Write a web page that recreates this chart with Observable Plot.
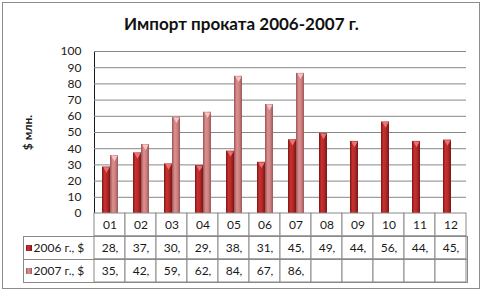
<!DOCTYPE html>
<html><head><meta charset="utf-8">
<script src="https://cdn.jsdelivr.net/npm/d3@7"></script>
<script src="https://cdn.jsdelivr.net/npm/@observablehq/plot@0.6"></script>
<style>
body{margin:0;background:#fff;}
#wrap{position:relative;width:483px;height:291px;overflow:hidden;font-family:Lato,sans-serif;}
#border{position:absolute;left:2px;top:2px;width:476px;height:285px;border:1px solid #8c8c8c;box-sizing:content-box;}
#chart{position:absolute;left:0;top:0;}
#table{position:absolute;left:0;top:213px;}
#title{position:absolute;left:0;top:13px;width:483px;text-align:center;font:bold 17px Lato,sans-serif;color:#111;}
</style></head><body>
<div id="wrap"><div id="border"></div><div id="chart"></div><div id="table"></div><div id="title"></div></div>
<script>
const titleText = "Импорт проката 2006-2007 г.";
const yLabel = "$ млн.";
const months = ["01","02","03","04","05","06","07","08","09","10","11","12"];
const seriesNames = ["2006 г., $", "2007 г., $"];
const values2006 = [28.7, 37.4, 30.6, 29.6, 38.5, 31.6, 45.5, 49.4, 44.5, 56.5, 44.5, 45.3];
const values2007 = [35.7, 42.6, 59.4, 62.5, 84.7, 67.3, 86.5];
const yTicks = [0, 10, 20, 30, 40, 50, 60, 70, 80, 90, 100];
const gradIds = ["url(#g2006)", "url(#g2007)"];

document.getElementById("title").textContent = titleText;

const bars = [];
months.forEach((m, i) => {
  bars.push({month: m, series: seriesNames[0], value: values2006[i]});
  if (values2007[i] != null) bars.push({month: m, series: seriesNames[1], value: values2007[i]});
});

const baseStyle = {background: "none", fontFamily: "Lato, sans-serif", fontSize: "12px", color: "#1a1a1a", overflow: "visible"};

const chart = Plot.plot({
  width: 483, height: 213,
  marginTop: 51, marginBottom: 0, marginLeft: 93, marginRight: 16,
  style: baseStyle,
  fx: {domain: months, padding: 0, axis: null, label: null},
  x: {domain: seriesNames, paddingInner: 0, paddingOuter: 0.73, axis: null},
  y: {domain: [0, 100], ticks: yTicks, tickSize: 0, tickPadding: 13, label: yLabel, labelAnchor: "center", labelOffset: 71, labelArrow: false, line: true},
  color: {domain: seriesNames, range: gradIds},
  marks: [
    Plot.ruleY(yTicks.slice(1), {stroke: "#878787", strokeWidth: 1}),
    Plot.barY(bars, {fx: "month", x: "series", y: "value", fill: "series"}),
    Plot.dot(bars.filter(d => d.series === seriesNames[0]), {fx: "month", x: "series", y: "value", symbol: "triangle", rotate: 180, r: 2.4, fill: "#ea7474", dy: 2}),
    Plot.dot(bars.filter(d => d.series === seriesNames[1]), {fx: "month", x: "series", y: "value", symbol: "triangle", rotate: 180, r: 2.4, fill: "#f6c4c4", dy: 2})
  ]
});

d3.select(chart).select("defs").remove();
const defs = d3.select(chart).insert("defs", ":first-child");
function grad(id, stops) {
  const g = defs.append("linearGradient").attr("id", id).attr("x1", 0).attr("x2", 1).attr("y1", 0).attr("y2", 0);
  stops.forEach(([o, c]) => g.append("stop").attr("offset", o).attr("stop-color", c));
}
grad("g2006", [[0, "#7e1414"], [0.3, "#c73030"], [0.6, "#b82a2a"], [1, "#7a1616"]]);
grad("g2007", [[0, "#9c5353"], [0.35, "#dc9090"], [0.65, "#cf8181"], [1, "#9a5656"]]);

d3.select(chart).selectAll('[aria-label="y-axis label"] text').style("font-weight", "bold");
d3.select(chart).selectAll('[aria-label="y-axis domain"]').attr("stroke", "#878787").attr("stroke-opacity", 1);
document.getElementById("chart").appendChild(chart);

const rowKeys = ["months", ...seriesNames];
const tableCells = [];
months.forEach((m, i) => {
  tableCells.push({month: m, row: "months", text: m});
  tableCells.push({month: m, row: seriesNames[0], text: Math.trunc(values2006[i]) + ","});
  tableCells.push({month: m, row: seriesNames[1], text: values2007[i] != null ? Math.trunc(values2007[i]) + "," : ""});
});
const tblH = 70, tblBottom = 1;
const rowH = (tblH - tblBottom) / rowKeys.length;

const table = Plot.plot({
  width: 483, height: tblH,
  marginTop: 0, marginBottom: tblBottom, marginLeft: 93, marginRight: 16,
  style: baseStyle,
  x: {domain: months, padding: 0, axis: null},
  y: {domain: rowKeys, padding: 0, axis: null},
  color: {domain: seriesNames, range: gradIds},
  marks: [
    Plot.cell(tableCells, {x: "month", y: "row", stroke: "#8a8a8a", fill: "white", inset: 0}),
    Plot.text(tableCells, {x: "month", y: "row", text: "text", fontSize: 12, fill: "#1a1a1a"}),
    Plot.frame({stroke: "#8a8a8a", insetLeft: -70, insetTop: rowH}),
    Plot.frame({stroke: "#8a8a8a", insetLeft: -70, insetTop: 2 * rowH}),
    Plot.text(seriesNames, {y: d => d, text: d => d, frameAnchor: "left", textAnchor: "start", dx: -60, fontSize: 12, fill: "#1a1a1a"}),
    Plot.dot(seriesNames, {y: d => d, frameAnchor: "left", dx: -64.5, symbol: "square", r: 3.4, fill: d => d})
  ]
});
document.getElementById("table").appendChild(table);
</script>
</body></html>
